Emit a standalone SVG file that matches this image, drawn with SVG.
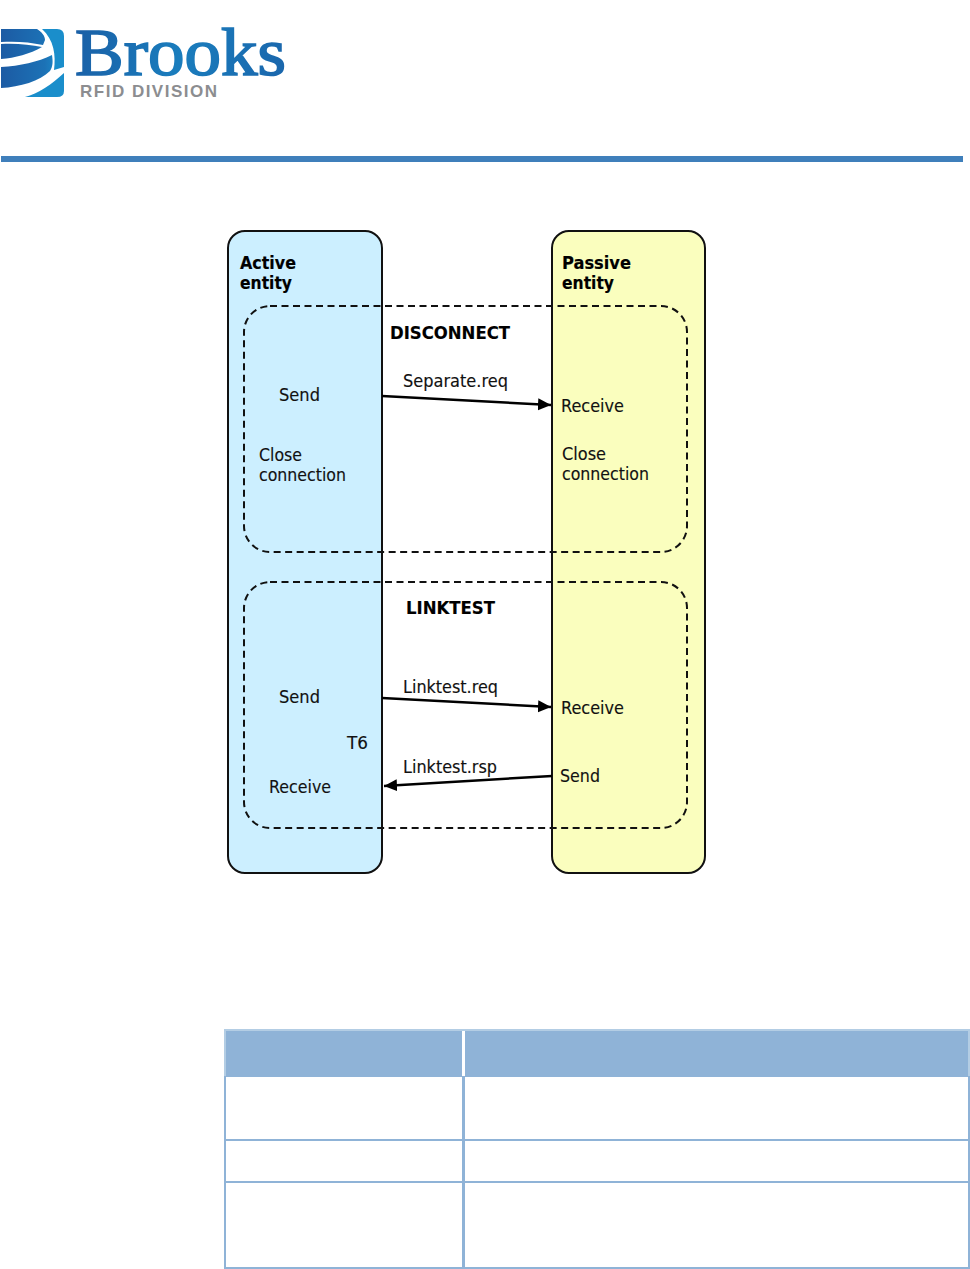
<svg xmlns="http://www.w3.org/2000/svg" width="970" height="1269" viewBox="0 0 970 1269">
<style>
.t{font-family:"DejaVu Sans",Verdana,sans-serif;font-size:17px;fill:#111;stroke:#111;stroke-width:.15}
.b{font-weight:bold;fill:#000;stroke:#000}
.box{stroke:#111;stroke-width:2}
.dash{fill:none;stroke:#111;stroke-width:2;stroke-dasharray:7 4.5}
.ln{fill:none;stroke:#000;stroke-width:2.5}
.tb{fill:#8fb3d7}
.tl{fill:#b3cde4}
</style>
<defs>
<linearGradient id="g" gradientUnits="userSpaceOnUse" x1="75" y1="30" x2="285" y2="75"><stop offset="0" stop-color="#1a5fa6"/><stop offset="0.5" stop-color="#1a7dbd"/><stop offset="1" stop-color="#1a66ac"/></linearGradient>
<linearGradient id="ic" gradientUnits="userSpaceOnUse" x1="0" y1="0" x2="64" y2="0"><stop offset="0" stop-color="#1c5aa3"/><stop offset="0.7" stop-color="#1c72b6"/><stop offset="1" stop-color="#1a93d0"/></linearGradient>
<marker id="ah" markerUnits="userSpaceOnUse" markerWidth="14" markerHeight="14" refX="13" refY="7" orient="auto"><path d="M0 1L13 7L0 13z" fill="#000"/></marker>
</defs>
<rect width="970" height="1269" fill="#fff"/>
<g id="logo">
<path fill="url(#ic)" d="M1 29H37C42 32 45 36 45 40L43 45C30 42 15 41 1 42Z"/>
<path fill="url(#ic)" d="M1 44C17 43 30 45 42 47C30 54 15 58 1 59Z"/>
<path fill="url(#ic)" d="M1 67C20 66 38 62 52 55C53 62 53 66 50 71C40 81 20 87 1 88Z"/>
<path fill="#1a8ecb" d="M42 29H57Q64 29 64 36V67L54 70C56 55 54 40 42 29Z"/>
<path fill="#1a8ecb" d="M64 73V91Q64 97 57 97H25C38 94 52 84 64 73Z"/>
<text x="75" y="75" font-family="Liberation Serif,serif" font-size="67" fill="url(#g)" stroke="url(#g)" stroke-width="1.7" textLength="211" lengthAdjust="spacingAndGlyphs">Brooks</text>
<text x="80" y="97" font-family="Liberation Sans,sans-serif" font-size="17" font-weight="bold" fill="#8c8d90" textLength="137">RFID DIVISION</text>
</g>
<rect id="rule" x="1" y="156" width="962" height="6" fill="#3f7fbb"/>
<g id="active-entity">
<rect class="box" x="228" y="231" width="154" height="642" rx="17" fill="#ccefff"/>
<text class="t b" x="240" y="268.5" textLength="56" lengthAdjust="spacingAndGlyphs">Active</text><text class="t b" x="240" y="289" textLength="52" lengthAdjust="spacingAndGlyphs">entity</text>
</g>
<g id="passive-entity">
<rect class="box" x="552" y="231" width="153" height="642" rx="17" fill="#fafebe"/>
<text class="t b" x="562" y="268.5" textLength="69" lengthAdjust="spacingAndGlyphs">Passive</text><text class="t b" x="562" y="289" textLength="52" lengthAdjust="spacingAndGlyphs">entity</text>
</g>
<g id="disconnect">
<rect class="dash" x="244" y="306" width="443" height="246" rx="26"/>
<text class="t b" x="390" y="339" textLength="120" lengthAdjust="spacingAndGlyphs">DISCONNECT</text>
<text class="t" x="279" y="401" textLength="41" lengthAdjust="spacingAndGlyphs">Send</text>
<text class="t" x="259" y="461" textLength="43" lengthAdjust="spacingAndGlyphs">Close</text><text class="t" x="259" y="481" textLength="87" lengthAdjust="spacingAndGlyphs">connection</text>
<text class="t" x="561" y="412" textLength="63" lengthAdjust="spacingAndGlyphs">Receive</text>
<text class="t" x="562" y="460" textLength="44" lengthAdjust="spacingAndGlyphs">Close</text><text class="t" x="562" y="480" textLength="87" lengthAdjust="spacingAndGlyphs">connection</text>
</g>
<g id="linktest">
<rect class="dash" x="244" y="582" width="443" height="246" rx="26"/>
<text class="t b" x="406" y="614" textLength="89" lengthAdjust="spacingAndGlyphs">LINKTEST</text>
<text class="t" x="279" y="703" textLength="41" lengthAdjust="spacingAndGlyphs">Send</text>
<text class="t" x="347" y="749" textLength="21" lengthAdjust="spacingAndGlyphs">T6</text>
<text class="t" x="269" y="793" textLength="62" lengthAdjust="spacingAndGlyphs">Receive</text>
<text class="t" x="561" y="714" textLength="63" lengthAdjust="spacingAndGlyphs">Receive</text>
<text class="t" x="560" y="782" textLength="40" lengthAdjust="spacingAndGlyphs">Send</text>
</g>
<g id="connectors">
<path class="ln" d="M382 396L551 405" marker-end="url(#ah)"/>
<path class="ln" d="M382 698L551 707" marker-end="url(#ah)"/>
<path class="ln" d="M552 776L384 786" marker-end="url(#ah)"/>
<text class="t" x="403" y="386.5" textLength="105" lengthAdjust="spacingAndGlyphs">Separate.req</text>
<text class="t" x="403" y="693" textLength="95" lengthAdjust="spacingAndGlyphs">Linktest.req</text>
<text class="t" x="403" y="773" textLength="94" lengthAdjust="spacingAndGlyphs">Linktest.rsp</text>
</g>
<g id="table">
<rect class="tb" x="224" y="1029" width="746" height="48"/>
<rect class="tl" x="224" y="1029" width="746" height="2"/>
<rect class="tl" x="224" y="1031" width="2" height="45"/>
<rect class="tl" x="968" y="1031" width="2" height="45"/>
<rect x="462" y="1031" width="3" height="45" fill="#fff"/>
<rect class="tb" x="224" y="1076" width="2" height="193"/>
<rect class="tb" x="462" y="1076" width="3" height="193"/>
<rect class="tb" x="968" y="1076" width="2" height="193"/>
<rect class="tb" x="224" y="1139" width="746" height="2"/>
<rect class="tb" x="224" y="1181" width="746" height="2"/>
<rect class="tb" x="224" y="1267" width="746" height="2"/>
</g>
</svg>
